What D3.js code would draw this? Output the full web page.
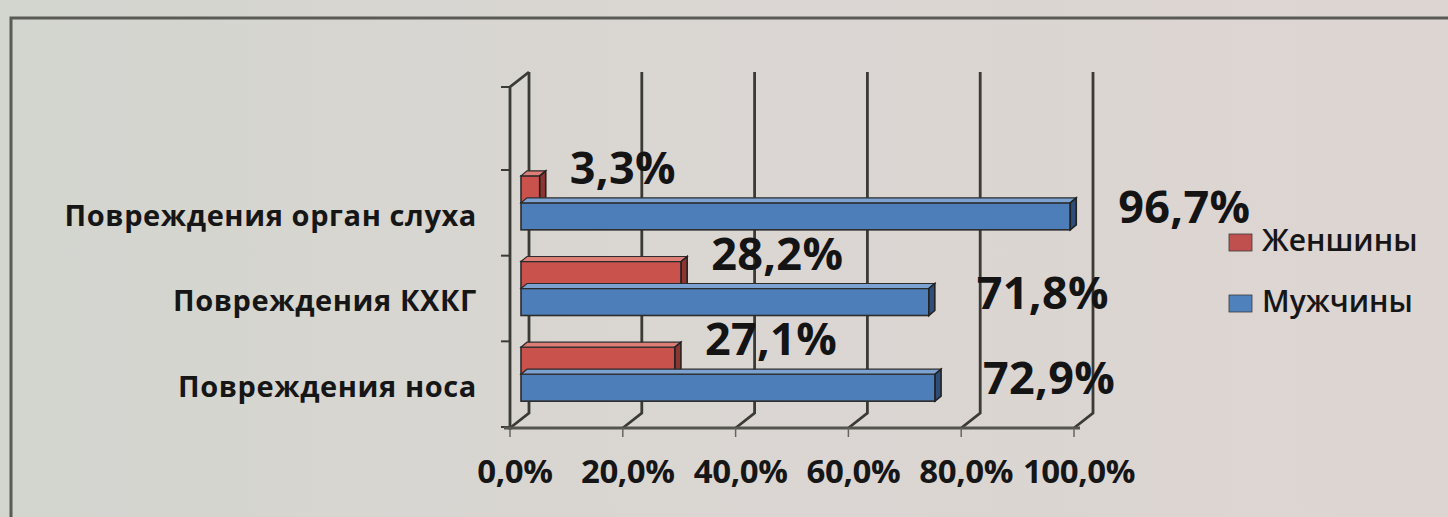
<!DOCTYPE html>
<html>
<head>
<meta charset="utf-8">
<script src="https://cdn.jsdelivr.net/npm/d3@7"></script>
<style>
  html, body { margin: 0; padding: 0; background: #d7d7d1; }
  svg { display: block; font-family: "Open Sans", "DejaVu Sans", sans-serif; }
</style>
</head>
<body>
<svg id="chart" width="1448" height="517"></svg>
<script>
// Categories and series
const categories = ["Повреждения орган слуха", "Повреждения КХКГ", "Повреждения носа"];
const seriesNames = ["Женшины", "Мужчины"];
const women = [3.3, 28.2, 27.1];
const men = [96.7, 71.8, 72.9];
const xTicks = [0, 20, 40, 60, 80, 100];

const seriesValues = { "Женшины": women, "Мужчины": men };
const colors = {
  "Женшины": { front: "#c9524d", top: "#dc7d76", side: "#8c3531", key: "#c0504d" },
  "Мужчины": { front: "#4e7eb9", top: "#7ba2d0", side: "#2e4d78", key: "#4f81bd" }
};

const fmt = v => d3.format(".1f")(v).replace(".", ",") + "%";

const svg = d3.select("#chart");
const W = 1448, H = 517;

// paper background with a slight tone shift from left to right
const defs = svg.append("defs");
const grad = defs.append("linearGradient").attr("id", "paper").attr("x1", 0).attr("x2", 1).attr("y1", 0).attr("y2", 0);
grad.append("stop").attr("offset", "0%").attr("stop-color", "#d3d5cf");
grad.append("stop").attr("offset", "45%").attr("stop-color", "#dad6d2");
grad.append("stop").attr("offset", "100%").attr("stop-color", "#ddd5d2");
svg.append("rect").attr("width", W).attr("height", H).attr("fill", "url(#paper)");

// outer frame (top and left edges)
svg.append("path")
  .attr("d", `M11,${H} L11,18 L${W},18`)
  .attr("fill", "none").attr("stroke", "#5b5b56").attr("stroke-width", 3);

// 3D box geometry
const x = d3.scaleLinear().domain([0, 100]).range([510, 1074]);   // front edge of the floor
const bx = d3.scaleLinear().domain([0, 100]).range([521, 1089]);  // bars sit partway into the depth
const DX = 19, DY = -15;          // depth offset of the back wall
const floorY = 428;               // front edge of the floor
const wallTop = 87;               // top of the front-left wall edge
const y = d3.scaleBand().domain(categories).range([160, 417]);
const ys = d3.scaleBand().domain(seriesNames).range([-27, 27]);
const bdx = 6, bdy = -5;          // bar thickness
const gridColor = "#3b3b35";

// back wall gridlines and their floor diagonals
const grid = svg.append("g");
grid.selectAll("path.grid").data(xTicks).join("path")
  .attr("class", "grid")
  .attr("d", v => `M${x(v) + DX},${wallTop + DY} L${x(v) + DX},${floorY + DY} L${x(v)},${floorY}`)
  .attr("fill", "none").attr("stroke", gridColor).attr("stroke-width", 2.8);

// front-left wall edge with its top diagonal
grid.append("path")
  .attr("d", `M${x(0) + DX},${wallTop + DY} L${x(0)},${wallTop} L${x(0)},${floorY + 2}`)
  .attr("fill", "none").attr("stroke", gridColor).attr("stroke-width", 2.8);

// category axis tick marks on the wall edge
const wallTicks = [wallTop].concat(categories.map(c => y(c) + 10), [y(categories[2]) + y.bandwidth() + 10]);
grid.selectAll("line.ytick").data(wallTicks).join("line")
  .attr("class", "ytick")
  .attr("x1", x(0) - 9).attr("x2", x(0))
  .attr("y1", d => d).attr("y2", d => d)
  .attr("stroke", gridColor).attr("stroke-width", 2);

// floor front edge and value ticks
grid.append("line")
  .attr("x1", x(0) - 6).attr("x2", x(100) + 6)
  .attr("y1", floorY).attr("y2", floorY)
  .attr("stroke", "#55554f").attr("stroke-width", 3);
grid.selectAll("line.xtick").data(xTicks).join("line")
  .attr("class", "xtick")
  .attr("x1", v => x(v)).attr("x2", v => x(v))
  .attr("y1", floorY).attr("y2", floorY + 9)
  .attr("stroke", "#66665f").attr("stroke-width", 1.5);

// bars
const bars = [];
categories.forEach((c, i) => {
  seriesNames.forEach(s => bars.push({ cat: c, series: s, value: seriesValues[s][i] }));
});

const barG = svg.append("g");
const barSel = barG.selectAll("g.bar").data(bars).join("g").attr("class", "bar");
barSel.each(function (d) {
  const g = d3.select(this);
  const col = colors[d.series];
  const x0 = bx(0), x1 = bx(d.value);
  const y0 = y(d.cat) + y.bandwidth() / 2 + ys(d.series);
  const y1 = y0 + ys.bandwidth();
  g.append("rect")
    .attr("x", x0).attr("y", y0).attr("width", x1 - x0).attr("height", y1 - y0)
    .attr("fill", col.front).attr("stroke", "#2c2c2c").attr("stroke-width", 1.6);
  g.append("path")
    .attr("d", `M${x0},${y0} L${x1},${y0} L${x1 + bdx},${y0 + bdy} L${x0 + bdx},${y0 + bdy} Z`)
    .attr("fill", col.top).attr("stroke", "#2c2c2c").attr("stroke-width", 1.2);
  g.append("path")
    .attr("d", `M${x1},${y0} L${x1 + bdx},${y0 + bdy} L${x1 + bdx},${y1 + bdy} L${x1},${y1} Z`)
    .attr("fill", col.side).attr("stroke", "#222").attr("stroke-width", 1.6);
});

// value labels
svg.append("g").selectAll("text").data(bars).join("text")
  .attr("x", d => bx(d.value) + bdx + (d.series === "Женшины" ? 24 : 42))
  .attr("y", d => y(d.cat) + y.bandwidth() / 2 + (d.series === "Женшины" ? -31 : 8))
  .attr("dominant-baseline", "middle")
  .attr("font-size", 45).attr("font-weight", 700).attr("fill", "#141414")
  .attr("letter-spacing", 0.3)
  .text(d => fmt(d.value));

// category labels
svg.append("g").selectAll("text").data(categories).join("text")
  .attr("x", 477)
  .attr("y", c => y(c) + y.bandwidth() / 2 + 15)
  .attr("text-anchor", "end").attr("dominant-baseline", "middle")
  .attr("font-size", 29).attr("font-weight", 700).attr("fill", "#161616")
  .attr("letter-spacing", 0.6)
  .text(c => c);

// value axis labels
svg.append("g").selectAll("text").data(xTicks).join("text")
  .attr("x", v => x(v) + 5)
  .attr("y", 474)
  .attr("text-anchor", "middle").attr("dominant-baseline", "middle")
  .attr("font-size", 33).attr("font-weight", 700).attr("fill", "#161616")
  .attr("letter-spacing", -0.4)
  .text(v => fmt(v));

// legend
const legend = svg.append("g");
const legendY = { "Женшины": 243, "Мужчины": 304 };
seriesNames.forEach(s => {
  legend.append("rect")
    .attr("x", 1229).attr("y", legendY[s] - 9).attr("width", 23).attr("height", 17)
    .attr("fill", colors[s].key).attr("stroke", "#3a3a3a").attr("stroke-width", 0.8);
  legend.append("text")
    .attr("x", 1262).attr("y", legendY[s])
    .attr("dominant-baseline", "middle")
    .attr("font-size", 30).attr("font-weight", 600).attr("fill", "#161616")
    .text(s);
});
</script>
</body>
</html>
